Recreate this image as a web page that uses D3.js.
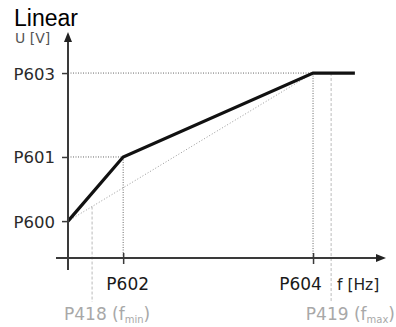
<!DOCTYPE html>
<html><head><meta charset="utf-8">
<script src="https://cdn.jsdelivr.net/npm/d3@7/dist/d3.min.js"></script>
<style>body{margin:0;background:#fff}svg{display:block}</style>
</head><body>
<script>
const title = "Linear";
const uAxisLabel = "U [V]";
const fAxisLabel = "f [Hz]";
const uLabels = ["P600", "P601", "P603"];
const uValues = [16.4, 44.9, 82.2];
const fLabels = ["P602", "P604"];
const fValues = [17.4, 77.3];
const fLimitNames = ["P418", "P419"];
const fLimitSubs = ["min", "max"];
const fLimitValues = [7.6, 83.0];
const curveF = [0, 17.4, 77.3, 90.5];
const curveU = [16.4, 44.9, 82.2, 82.2];

const W = 396, H = 327;
const svg = d3.select("body").append("svg").attr("width", W).attr("height", H);
const x = d3.scaleLinear().domain([0, 100]).range([68, 385]);
const y = d3.scaleLinear().domain([0, 100]).range([258, 33]);
const font = "DejaVu Sans, sans-serif";
const axisCol = "#3a3a3a";

const g = svg.append("g");
g.append("line").attr("x1", x(0)).attr("x2", x(fValues[1])).attr("y1", y(uValues[2])).attr("y2", y(uValues[2]))
  .attr("stroke", "#666").attr("stroke-width", 1).attr("stroke-dasharray", "1,1.5");
g.append("line").attr("x1", x(0)).attr("x2", x(fValues[0])).attr("y1", y(uValues[1])).attr("y2", y(uValues[1]))
  .attr("stroke", "#666").attr("stroke-width", 1).attr("stroke-dasharray", "1,1.5");
fValues.forEach((v, i) => {
  g.append("line").attr("x1", x(v)).attr("x2", x(v)).attr("y1", y(curveU[i + 1])).attr("y2", y(0))
    .attr("stroke", "#666").attr("stroke-width", 1).attr("stroke-dasharray", "1,1.5");
});
fLimitValues.forEach((v, i) => {
  const ly = i === 0 ? y(uValues[0] + (uValues[2] - uValues[0]) * v / fValues[1]) : y(uValues[2]);
  g.append("line").attr("x1", x(v)).attr("x2", x(v)).attr("y1", ly).attr("y2", 302)
    .attr("stroke", "#bbb").attr("stroke-width", 1).attr("stroke-dasharray", "3,2");
});
g.append("line").attr("x1", x(0)).attr("y1", y(uValues[0])).attr("x2", x(fValues[1])).attr("y2", y(uValues[2]))
  .attr("stroke", "#999").attr("stroke-width", 1).attr("stroke-dasharray", "1,2");

const line = d3.line().x(d => x(d[0])).y(d => y(d[1]));
svg.append("path").datum(curveF.map((f, i) => [f, curveU[i]]))
  .attr("d", line).attr("fill", "none").attr("stroke", "#111").attr("stroke-width", 3.2)
  .attr("stroke-linejoin", "miter");

svg.append("line").attr("x1", x(0)).attr("x2", x(0)).attr("y1", 270).attr("y2", 40)
  .attr("stroke", axisCol).attr("stroke-width", 2);
svg.append("path").attr("d", `M${x(0)},32 L${x(0) - 4},42 L${x(0) + 4},42 Z`).attr("fill", "#222");
svg.append("line").attr("x1", 56).attr("x2", 378).attr("y1", y(0)).attr("y2", y(0))
  .attr("stroke", axisCol).attr("stroke-width", 2);
svg.append("path").attr("d", `M386,${y(0)} L376,${y(0) - 4} L376,${y(0) + 4} Z`).attr("fill", "#222");

const yAxis = d3.axisLeft(y).tickValues(uValues).tickFormat((d, i) => uLabels[i])
  .tickSizeInner(6).tickSizeOuter(0).tickPadding(7);
const ya = svg.append("g").attr("transform", `translate(${x(0)},0)`).call(yAxis);
ya.select(".domain").remove();
ya.selectAll(".tick line").attr("stroke", axisCol).attr("stroke-width", 1.5);
ya.selectAll(".tick text").attr("font-family", font).attr("font-size", 16.5).attr("fill", "#2a2a2a")
  .attr("dy", "0.36em");

const xAxis = d3.axisBottom(x).tickValues(fValues).tickFormat((d, i) => fLabels[i])
  .tickSizeInner(6).tickSizeOuter(0).tickPadding(14);
const xa = svg.append("g").attr("transform", `translate(0,${y(0)})`).call(xAxis);
xa.select(".domain").remove();
xa.selectAll(".tick line").attr("y1", -5).attr("y2", 6).attr("stroke", axisCol).attr("stroke-width", 1.5);
xa.selectAll(".tick text").attr("font-family", font).attr("font-size", 17).attr("fill", "#1a1a1a")
  .attr("dx", (d, i) => i === 0 ? 4 : -13);

fLimitValues.forEach((v, i) => {
  const t = svg.append("text").attr("x", i === 0 ? 64 : 395).attr("y", 320)
    .attr("text-anchor", i === 0 ? "start" : "end")
    .attr("font-family", font).attr("font-size", 17).attr("fill", "#a8a8a8");
  t.append("tspan").text(fLimitNames[i] + " (f");
  t.append("tspan").attr("font-size", 10).attr("dy", 3).text(fLimitSubs[i]);
  t.append("tspan").attr("dy", -3).text(")");
});

svg.append("text").attr("x", 15).attr("y", 43).attr("font-family", font).attr("font-size", 14)
  .attr("fill", "#555").text(uAxisLabel);
svg.append("text").attr("x", 337).attr("y", 290).attr("font-family", font).attr("font-size", 15.5)
  .attr("fill", "#222").text(fAxisLabel);
svg.append("text").attr("x", 14).attr("y", 26).attr("font-family", "Liberation Sans, Arial, sans-serif")
  .attr("font-size", 23).attr("fill", "#000").text(title);
</script>
</body></html>
